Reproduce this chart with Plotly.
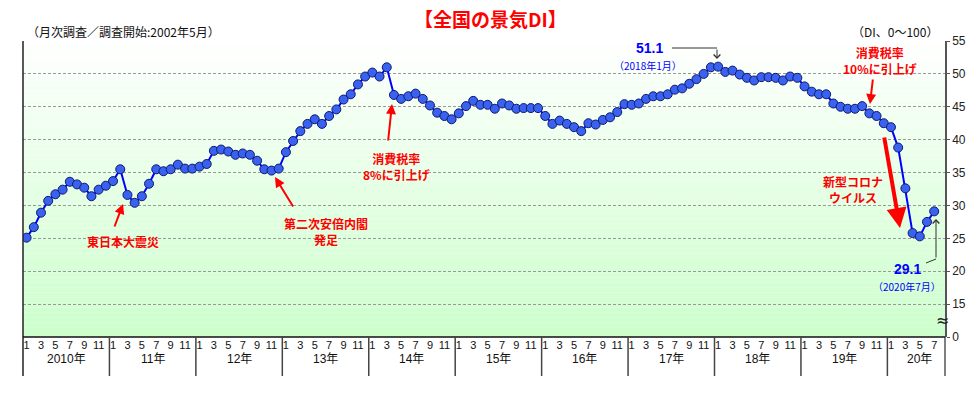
import plotly.graph_objects as go

# ---------------- data ----------------
years = ["2010年", "11年", "12年", "13年", "14年", "15年", "16年", "17年", "18年", "19年", "20年"]
month_labels = ["1", "3", "5", "7", "9", "11"]
di_values = [
    25.1, 26.7, 28.9, 30.7, 31.7, 32.4, 33.6, 33.2, 32.7, 31.4, 32.4, 33.0,   # 2010
    33.7, 35.5, 31.6, 30.4, 31.4, 33.3, 35.5, 35.2, 35.5, 36.2, 35.6, 35.6,   # 2011
    35.9, 36.3, 38.3, 38.5, 38.2, 37.7, 37.9, 37.7, 36.8, 35.5, 35.3, 35.6,   # 2012
    38.1, 39.8, 41.3, 42.4, 43.1, 42.4, 43.6, 44.6, 46.1, 46.9, 48.4, 49.6,   # 2013
    50.2, 49.6, 51.0, 46.8, 46.2, 46.6, 47.0, 46.2, 45.2, 44.1, 43.6, 43.1,   # 2014
    44.0, 45.1, 45.9, 45.3, 45.3, 44.7, 45.5, 45.2, 44.7, 44.8, 44.8, 44.8,   # 2015
    43.6, 42.4, 42.9, 42.4, 41.9, 41.3, 42.5, 42.3, 43.0, 43.4, 44.2, 45.4,   # 2016
    45.3, 45.5, 46.2, 46.6, 46.6, 46.9, 47.6, 47.8, 48.5, 49.2, 50.0, 51.0,   # 2017
    51.1, 50.3, 50.5, 49.9, 49.4, 49.0, 49.5, 49.5, 49.4, 49.0, 49.6, 49.4,   # 2018
    48.1, 47.3, 46.9, 46.9, 45.5, 45.0, 44.7, 44.7, 45.1, 44.0, 43.6, 42.5,   # 2019
    41.9, 38.8, 32.6, 25.8, 25.3, 27.5, 29.1,                                 # 2020
]
y_tick_vals = [10, 15, 20, 25, 30, 35, 40, 45, 50, 55]
y_tick_text = ["0", "15", "20", "25", "30", "35", "40", "45", "50", "55"]

# ---------------- layout geometry ----------------
W, H = 979, 396
L, R, T, B = 23, 34, 41, 59
PW, PH = W - L - R, H - T - B
N_SLOTS = 128
X_MIN, X_MAX = -0.5, N_SLOTS - 0.5
Y_MIN, Y_MAX = 10, 55


def X(px):
    return (px - L) / PW * N_SLOTS - 0.5


def Y(py):
    return Y_MAX - (py - T) / PH * (Y_MAX - Y_MIN)


def PX(px):  # pixel -> paper x
    return (px - L) / PW


def PY(py):  # pixel -> paper y
    return 1 - (py - T) / PH


x_idx = list(range(len(di_values)))

# month ticks
tick_vals, tick_text = [], []
for k in range(len(years)):
    for m in month_labels:
        i = k * 12 + int(m) - 1
        if i < len(di_values):
            tick_vals.append(i)
            tick_text.append(m)

fig = go.Figure()
fig.add_trace(go.Scatter(
    x=x_idx, y=di_values, mode="lines+markers",
    line=dict(color="#0000FF", width=2),
    marker=dict(size=9, color="#3A62F0", line=dict(color="#101870", width=1)),
    hoverinfo="skip", showlegend=False,
))

shapes = []
# gradient background
nb = 60
for b in range(nb):
    t = (b + 0.5) / nb  # 0 bottom -> 1 top
    c = int(204 + (255 - 204) * t)
    shapes.append(dict(type="rect", xref="paper", yref="paper", x0=0, x1=1,
                       y0=b / nb, y1=(b + 1) / nb, fillcolor=f"rgb({c},255,{c})",
                       line=dict(width=0), layer="below"))

# borders
sep_bottom = PY(376)
shapes.append(dict(type="line", xref="paper", yref="paper", x0=0, x1=0, y0=sep_bottom, y1=1,
                   line=dict(color="#222", width=1.5)))
shapes.append(dict(type="line", xref="paper", yref="paper", x0=1, x1=1, y0=sep_bottom, y1=0,
                   line=dict(color="#555", width=1.5)))
shapes.append(dict(type="line", xref="paper", yref="paper", x0=0, x1=1, y0=0, y1=0,
                   line=dict(color="#111", width=1.5)))
# year separators
for k in range(1, len(years)):
    xb = k * 12 - 0.5
    shapes.append(dict(type="line", xref="x", yref="paper", x0=xb, x1=xb, y0=sep_bottom, y1=0,
                       line=dict(color="#444", width=1.5)))

# connectors for value callouts
shapes.append(dict(type="line", xref="x", yref="y", x0=X(672), x1=X(717), y0=Y(48), y1=Y(48),
                   line=dict(color="#333", width=1)))
shapes.append(dict(type="line", xref="x", yref="y", x0=X(926), x1=X(936), y0=Y(263), y1=Y(259),
                   line=dict(color="#333", width=1)))

annotations = []
# year labels
for k, yl in enumerate(years):
    cx = k * 12 + 5.5 if k < len(years) - 1 else 124
    annotations.append(dict(x=cx, y=PY(368), xref="x", yref="paper", text=yl, showarrow=False,
                            font=dict(size=12, color="#111", family="Liberation Sans, Noto Sans CJK JP")))

red = "#FF0000"
ffam = "Noto Sans CJK JP, Liberation Sans"


def red_text(txt, cx, cy):
    annotations.append(dict(x=X(cx), y=Y(cy), text=f"<b>{txt}</b>", showarrow=False,
                            font=dict(size=12, color=red, family=ffam)))


def arrow(tail, tip, color=red, width=2, head=2, size=1.0):
    annotations.append(dict(x=X(tip[0]), y=Y(tip[1]), ax=tail[0] - tip[0], ay=tail[1] - tip[1],
                            text="", showarrow=True, arrowcolor=color, arrowwidth=width,
                            arrowhead=head, arrowsize=size))


red_text("東日本大震災", 123, 241)
arrow((114, 228), (123, 204))
red_text("第二次安倍内閣<br>発足", 326, 231)
arrow((294, 208), (275, 177))
red_text("消費税率<br>8%に引上げ", 396, 166)
arrow((388, 142), (392, 104))
red_text("消費税率<br>10%に引上げ", 880, 60)
arrow((873, 78), (870, 104))
red_text("新型コロナ<br>ウイルス", 853, 189)
arrow((884, 136), (900, 228), width=4, head=2, size=1.0)

# value callouts
blue = "#0000FF"
annotations.append(dict(x=X(649), y=Y(48), text="<b>51.1</b>", showarrow=False,
                        font=dict(size=14, color=blue, family="Liberation Sans")))
annotations.append(dict(x=X(648), y=Y(65), text="（2018年1月）", showarrow=False,
                        font=dict(size=10, color=blue, family=ffam)))
arrow((717, 48), (717, 59), color="#333", width=1, head=4, size=1.3)
annotations.append(dict(x=X(907), y=Y(269), text="<b>29.1</b>", showarrow=False,
                        font=dict(size=14, color=blue, family="Liberation Sans")))
annotations.append(dict(x=X(907), y=Y(286), text="（2020年7月）", showarrow=False,
                        font=dict(size=10, color=blue, family=ffam)))
arrow((936, 259), (936, 219), color="#333", width=1, head=4, size=1.3)

# headers
annotations.append(dict(x=PX(490), y=PY(18), xref="paper", yref="paper",
                        text="<b>【全国の景気DI】</b>", showarrow=False,
                        xanchor="center", yanchor="middle",
                        font=dict(size=19, color=red, family=ffam)))
annotations.append(dict(x=PX(25), y=PY(32), xref="paper", yref="paper",
                        text="（月次調査／調査開始:2002年5月）", showarrow=False, xanchor="left",
                        yanchor="middle", font=dict(size=12, color="#111", family=ffam)))
annotations.append(dict(x=PX(940), y=PY(31), xref="paper", yref="paper",
                        text="（DI、0～100）", showarrow=False, xanchor="right", yanchor="middle",
                        font=dict(size=12, color="#111", family=ffam)))
# axis break mark
annotations.append(dict(x=1, y=12.5, xref="paper", yref="y", text="≈", showarrow=False,
                        xshift=6, font=dict(size=16, color="#222", family="DejaVu Sans")))

fig.update_layout(
    width=W, height=H, margin=dict(l=L, r=R, t=T, b=B, autoexpand=False),
    paper_bgcolor="white", plot_bgcolor="white",
    shapes=shapes, annotations=annotations,
    xaxis=dict(range=[X_MIN, X_MAX], tickvals=tick_vals, ticktext=tick_text, showgrid=False,
               zeroline=False, showline=False, ticks="", automargin=False,
               tickfont=dict(size=11, color="#111", family="Liberation Sans"), fixedrange=True),
    yaxis=dict(range=[Y_MIN, Y_MAX], side="right", tickvals=y_tick_vals, ticktext=y_tick_text,
               showgrid=True, gridcolor="#999999", griddash="3px,2px", gridwidth=1,
               zeroline=False, showline=True, linecolor="#555", linewidth=1.5,
               ticks="outside", ticklen=3, tickcolor="#555", automargin=False,
               tickfont=dict(size=12, color="#222", family="Liberation Sans"), fixedrange=True),
)

fig.write_html("out.html", config={"displayModeBar": False},
               post_script="document.body.style.margin='0';document.body.style.overflow='hidden';")
